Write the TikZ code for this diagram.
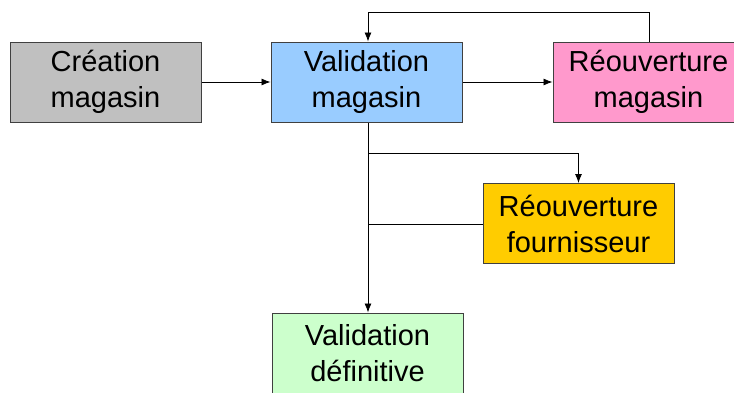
\documentclass[tikz,border=0pt]{standalone}
\usepackage{fontspec}
\setmainfont{Liberation Sans}
\usetikzlibrary{arrows.meta}
\definecolor{grisbox}{HTML}{C0C0C0}
\definecolor{bleubox}{HTML}{99CCFF}
\definecolor{rosebox}{HTML}{FF99CC}
\definecolor{orbox}{HTML}{FFCC00}
\definecolor{vertbox}{HTML}{CCFFCC}
\tikzset{
  etat/.style={draw=black!75, line width=1pt, minimum width=191pt, minimum height=80pt,
    align=center, inner sep=0pt, font=\fontsize{29}{36}\selectfont},
  fleche/.style={-{Latex[length=9pt,width=7pt]}, line width=0.8pt},
  trait/.style={line width=0.8pt}
}

\begin{document}
\begin{tikzpicture}[x=1pt, y=-1pt]
    \useasboundingbox (0,0) rectangle (734,392);
    \node [etat, fill=grisbox] (creation) at (105.5,82) {Création\\magasin};
    \node [etat, fill=bleubox] (valid) at (366.5,82) {Validation\\magasin};
    \node [etat, fill=rosebox] (reoumag) at (648.5,82) {Réouverture\\magasin};
    \node [etat, fill=orbox] (reoufour) at (578.5,223.5) {Réouverture\\fournisseur};
    \node [etat, fill=vertbox] (validdef) at (367.5,353) {Validation\\définitive};
    \coordinate (haut) at (368,12);
    \coordinate (branche) at (368,153);
    \coordinate (retour) at (368,224);
    % liaisons
    \draw [fleche] (creation) -- (valid);
    \draw [fleche] (valid) -- (reoumag);
    \draw [fleche] (reoumag.north -| 649,0) -- (haut -| 649,0) -- (haut) -- (valid.north -| haut);
    \draw [fleche] (valid.south -| haut) -- (validdef.north -| haut);
    \draw [fleche] (branche) -- (branche -| reoufour.north) -- (reoufour.north);
    \draw [trait] (reoufour.west |- retour) -- (retour);
\end{tikzpicture}
\end{document}
